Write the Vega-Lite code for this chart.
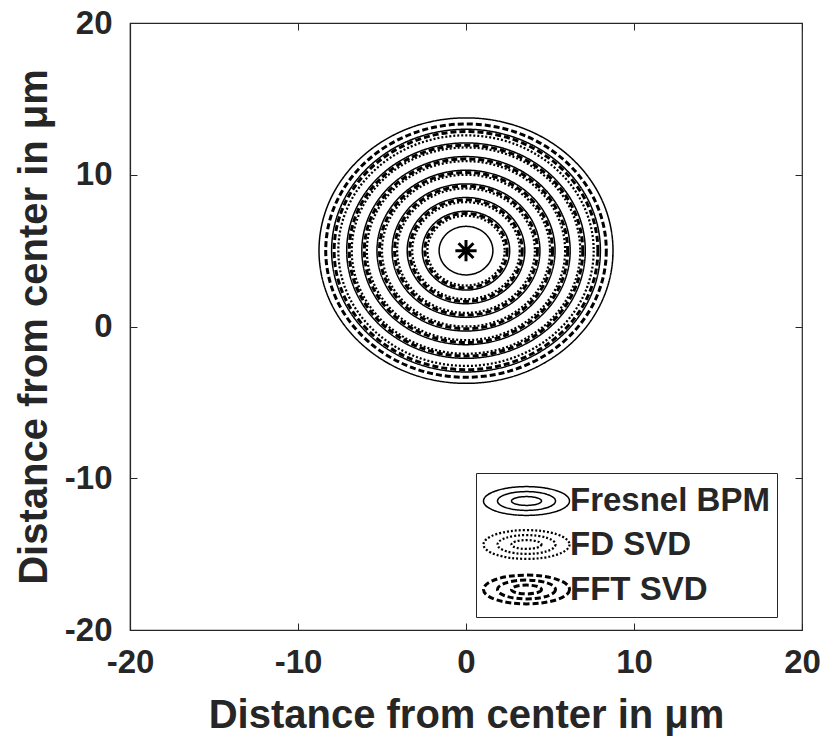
{
  "$schema": "https://vega.github.io/schema/vega-lite/v6.json",
  "width": 672,
  "height": 607,
  "autosize": {"type": "none"},
  "padding": {"left": 130, "top": 23, "right": 26, "bottom": 116},
  "background": "white",
  "config": {
    "view": {"stroke": "#262626", "strokeWidth": 1.2},
    "axis": {
      "grid": false,
      "domainColor": "#262626",
      "domainWidth": 1.2,
      "tickColor": "#262626",
      "tickWidth": 1,
      "tickSize": -7,
      "labelFont": "Liberation Sans",
      "labelFontWeight": "bold",
      "labelFontSize": 33,
      "labelColor": "#262626",
      "labelFlush": false,
      "labelOverlap": false,
      "labelExpr": "'' + datum.value",
      "titleFont": "Liberation Sans",
      "titleFontWeight": "bold",
      "titleFontSize": 40,
      "titleColor": "#262626"
    }
  },
  "datasets": {
    "rings": [
      {"series": "Fresnel BPM", "x": 0, "y": 5, "r": 1.6},
      {"series": "Fresnel BPM", "x": 0, "y": 5, "r": 2.6},
      {"series": "Fresnel BPM", "x": 0, "y": 5, "r": 3.5},
      {"series": "Fresnel BPM", "x": 0, "y": 5, "r": 4.4},
      {"series": "Fresnel BPM", "x": 0, "y": 5, "r": 5.3},
      {"series": "Fresnel BPM", "x": 0, "y": 5, "r": 6.2},
      {"series": "Fresnel BPM", "x": 0, "y": 5, "r": 7.1},
      {"series": "Fresnel BPM", "x": 0, "y": 5, "r": 8.0},
      {"series": "Fresnel BPM", "x": 0, "y": 5, "r": 8.75},
      {"series": "FD SVD", "x": 0, "y": 5, "r": 2.3},
      {"series": "FD SVD", "x": 0, "y": 5, "r": 3.2},
      {"series": "FD SVD", "x": 0, "y": 5, "r": 4.1},
      {"series": "FD SVD", "x": 0, "y": 5, "r": 5.0},
      {"series": "FD SVD", "x": 0, "y": 5, "r": 5.9},
      {"series": "FD SVD", "x": 0, "y": 5, "r": 6.8},
      {"series": "FD SVD", "x": 0, "y": 5, "r": 7.6},
      {"series": "FFT SVD", "x": 0, "y": 5, "r": 2.45},
      {"series": "FFT SVD", "x": 0, "y": 5, "r": 3.35},
      {"series": "FFT SVD", "x": 0, "y": 5, "r": 4.25},
      {"series": "FFT SVD", "x": 0, "y": 5, "r": 5.15},
      {"series": "FFT SVD", "x": 0, "y": 5, "r": 6.05},
      {"series": "FFT SVD", "x": 0, "y": 5, "r": 6.95},
      {"series": "FFT SVD", "x": 0, "y": 5, "r": 7.85},
      {"series": "FFT SVD", "x": 0, "y": 5, "r": 8.35}
    ],
    "center": [{"x": 0, "y": 5}]
  },
  "layer": [
    {
      "data": {"name": "rings"},
      "mark": {
        "type": "point",
        "filled": false,
        "opacity": 1,
        "stroke": "black",
        "shape": "M1,0C1,0.4987 0.5523,0.903 0,0.903C-0.5523,0.903 -1,0.4987 -1,0C-1,-0.4987 -0.5523,-0.903 0,-0.903C0.5523,-0.903 1,-0.4987 1,0Z"
      },
      "encoding": {
        "x": {
          "field": "x", "type": "quantitative",
          "scale": {"domain": [-20, 20], "nice": false, "zero": false},
          "axis": {"values": [-20, -10, 0, 10, 20], "title": "Distance from center in μm", "labelPadding": 23, "titlePadding": 16}
        },
        "y": {
          "field": "y", "type": "quantitative",
          "scale": {"domain": [-20, 20], "nice": false, "zero": false},
          "axis": {"values": [-20, -10, 0, 10, 20], "title": "Distance from center in μm", "labelPadding": 25, "titlePadding": 10}
        },
        "size": {
          "field": "r", "type": "quantitative",
          "scale": {"type": "pow", "exponent": 2, "domain": [0, 10], "range": [0, 112896]},
          "legend": null
        },
        "strokeDash": {
          "field": "series", "type": "nominal",
          "scale": {"domain": ["Fresnel BPM", "FD SVD", "FFT SVD"], "range": [[1, 0], [2, 2], [6, 3]]},
          "legend": {
            "title": null, "orient": "none", "legendX": 346, "legendY": 450, "direction": "vertical",
            "symbolType": "M2.15,0C2.15,0.3977 1.1874,0.72 0,0.72C-1.1874,0.72 -2.15,0.3977 -2.15,0C-2.15,-0.3977 -1.1874,-0.72 0,-0.72C1.1874,-0.72 2.15,-0.3977 2.15,0ZM1.45,0C1.45,0.2596 0.8008,0.47 0,0.47C-0.8008,0.47 -1.45,0.2596 -1.45,0C-1.45,-0.2596 -0.8008,-0.47 0,-0.47C0.8008,-0.47 1.45,-0.2596 1.45,0ZM0.75,0C0.75,0.1215 0.4142,0.22 0,0.22C-0.4142,0.22 -0.75,0.1215 -0.75,0C-0.75,-0.1215 -0.4142,-0.22 0,-0.22C0.4142,-0.22 0.75,-0.1215 0.75,0Z",
            "symbolSize": 1600, "symbolStrokeColor": "black", "symbolFillColor": "transparent", "symbolStrokeWidth": 2.2,
            "labelFont": "Liberation Sans", "labelFontWeight": "bold", "labelFontSize": 33, "labelColor": "#262626", "labelLimit": 400,
            "strokeColor": "#262626", "fillColor": "white", "padding": 7, "rowPadding": 4, "symbolOffset": 22, "labelOffset": 22
          }
        },
        "strokeWidth": {
          "field": "series", "type": "nominal",
          "scale": {"domain": ["Fresnel BPM", "FD SVD", "FFT SVD"], "range": [1.5, 3, 2.8]},
          "legend": {
            "title": null, "orient": "none", "legendX": 346, "legendY": 450, "direction": "vertical",
            "symbolType": "M2.15,0C2.15,0.3977 1.1874,0.72 0,0.72C-1.1874,0.72 -2.15,0.3977 -2.15,0C-2.15,-0.3977 -1.1874,-0.72 0,-0.72C1.1874,-0.72 2.15,-0.3977 2.15,0ZM1.45,0C1.45,0.2596 0.8008,0.47 0,0.47C-0.8008,0.47 -1.45,0.2596 -1.45,0C-1.45,-0.2596 -0.8008,-0.47 0,-0.47C0.8008,-0.47 1.45,-0.2596 1.45,0ZM0.75,0C0.75,0.1215 0.4142,0.22 0,0.22C-0.4142,0.22 -0.75,0.1215 -0.75,0C-0.75,-0.1215 -0.4142,-0.22 0,-0.22C0.4142,-0.22 0.75,-0.1215 0.75,0Z",
            "symbolSize": 1600, "symbolStrokeColor": "black", "symbolFillColor": "transparent", "symbolStrokeWidth": 2.2,
            "labelFont": "Liberation Sans", "labelFontWeight": "bold", "labelFontSize": 33, "labelColor": "#262626", "labelLimit": 400,
            "strokeColor": "#262626", "fillColor": "white", "padding": 7, "rowPadding": 4, "symbolOffset": 22, "labelOffset": 22
          }
        }
      }
    },
    {
      "data": {"name": "center"},
      "mark": {
        "type": "point",
        "filled": false,
        "opacity": 1,
        "stroke": "black",
        "strokeWidth": 3,
        "size": 450,
        "shape": "M-1,0L1,0M0,-1L0,1M-0.7,-0.7L0.7,0.7M-0.7,0.7L0.7,-0.7"
      },
      "encoding": {
        "x": {
          "field": "x", "type": "quantitative",
          "scale": {"domain": [-20, 20], "nice": false, "zero": false},
          "axis": {"orient": "top", "values": [-20, -10, 0, 10, 20], "labels": false, "title": null, "domain": false}
        },
        "y": {
          "field": "y", "type": "quantitative",
          "scale": {"domain": [-20, 20], "nice": false, "zero": false},
          "axis": {"orient": "right", "values": [-20, -10, 0, 10, 20], "labels": false, "title": null, "domain": false}
        }
      }
    }
  ],
  "resolve": {"axis": {"x": "independent", "y": "independent"}}
}
